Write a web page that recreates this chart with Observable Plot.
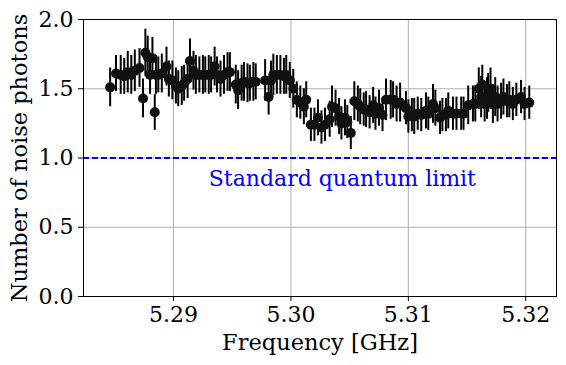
<!DOCTYPE html>
<html>
<head>
<meta charset="utf-8">
<script src="https://cdn.jsdelivr.net/npm/d3@7"></script>
<script src="https://cdn.jsdelivr.net/npm/@observablehq/plot@0.6"></script>
<style>
  html, body { margin: 0; padding: 0; background: #fff; }
  #chart svg { display: block; }
</style>
</head>
<body>
<div id="chart"></div>
<script>
const freq = [
  5.2846, 5.2851, 5.2855, 5.2858, 5.2861, 5.2864, 5.2867, 5.2871, 5.2874, 5.2876,
  5.2878, 5.2880, 5.2882, 5.2884, 5.2885, 5.2887, 5.2890, 5.2894, 5.2896, 5.2899,
  5.2902, 5.2904, 5.2907, 5.2909, 5.2912, 5.2914, 5.2917, 5.2919, 5.2922, 5.2925,
  5.2927, 5.2930, 5.2932, 5.2935, 5.2937, 5.2940, 5.2943, 5.2946, 5.2948, 5.2953,
  5.2955, 5.2958, 5.2960, 5.2963, 5.2965, 5.2968, 5.2970, 5.2978, 5.2981, 5.2983,
  5.2985, 5.2988, 5.2991, 5.2994, 5.2996, 5.2999, 5.3002, 5.3005, 5.3008, 5.3011,
  5.3013, 5.3017, 5.3020, 5.3023, 5.3026, 5.3029, 5.3033, 5.3035, 5.3038, 5.3041,
  5.3043, 5.3046, 5.3048, 5.3051, 5.3054, 5.3057, 5.3059, 5.3062, 5.3064, 5.3067,
  5.3070, 5.3072, 5.3075, 5.3078, 5.3081, 5.3085, 5.3087, 5.3090, 5.3093, 5.3098,
  5.3100, 5.3103, 5.3105, 5.3108, 5.3111, 5.3115, 5.3117, 5.3121, 5.3123, 5.3127,
  5.3129, 5.3132, 5.3134, 5.3138, 5.3141, 5.3145, 5.3147, 5.3151, 5.3155, 5.3157,
  5.3160, 5.3162, 5.3163, 5.3165, 5.3167, 5.3168, 5.3170, 5.3172, 5.3174, 5.3176,
  5.3179, 5.3181, 5.3184, 5.3186, 5.3189, 5.3192, 5.3196, 5.3199, 5.3203
];
const photons = [
  1.51, 1.61, 1.60, 1.59, 1.62, 1.60, 1.63, 1.65, 1.43, 1.76,
  1.73, 1.60, 1.72, 1.33, 1.60, 1.60, 1.61, 1.66, 1.57, 1.56,
  1.52, 1.50, 1.52, 1.54, 1.57, 1.70, 1.63, 1.60, 1.60, 1.60,
  1.60, 1.60, 1.60, 1.66, 1.60, 1.57, 1.60, 1.62, 1.62, 1.53,
  1.49, 1.54, 1.55, 1.54, 1.54, 1.55, 1.55, 1.56, 1.44, 1.56,
  1.60, 1.60, 1.60, 1.59, 1.60, 1.56, 1.50, 1.42, 1.40, 1.37,
  1.42, 1.24, 1.24, 1.29, 1.22, 1.24, 1.28, 1.37, 1.36, 1.30,
  1.25, 1.29, 1.26, 1.18, 1.41, 1.39, 1.37, 1.35, 1.35, 1.33,
  1.38, 1.32, 1.36, 1.31, 1.42, 1.42, 1.42, 1.39, 1.40, 1.36,
  1.30, 1.31, 1.30, 1.32, 1.31, 1.34, 1.32, 1.39, 1.36, 1.29,
  1.31, 1.31, 1.34, 1.32, 1.32, 1.32, 1.32, 1.38, 1.39, 1.39,
  1.50, 1.44, 1.53, 1.39, 1.43, 1.47, 1.50, 1.39, 1.44, 1.39,
  1.41, 1.44, 1.41, 1.42, 1.39, 1.42, 1.44, 1.39, 1.40
];
const errs = [
  0.14, 0.13, 0.14, 0.13, 0.15, 0.14, 0.15, 0.14, 0.14, 0.17,
  0.15, 0.14, 0.15, 0.13, 0.14, 0.13, 0.14, 0.14, 0.13, 0.14,
  0.13, 0.13, 0.14, 0.13, 0.14, 0.16, 0.14, 0.14, 0.13, 0.14,
  0.13, 0.14, 0.13, 0.14, 0.13, 0.13, 0.14, 0.14, 0.14, 0.14,
  0.14, 0.13, 0.14, 0.14, 0.13, 0.14, 0.13, 0.15, 0.13, 0.14,
  0.15, 0.14, 0.14, 0.13, 0.14, 0.13, 0.14, 0.13, 0.12, 0.13,
  0.13, 0.12, 0.12, 0.13, 0.12, 0.12, 0.13, 0.15, 0.13, 0.13,
  0.12, 0.13, 0.12, 0.12, 0.14, 0.13, 0.13, 0.12, 0.13, 0.12,
  0.13, 0.12, 0.13, 0.12, 0.15, 0.14, 0.13, 0.13, 0.14, 0.12,
  0.12, 0.12, 0.13, 0.12, 0.12, 0.13, 0.12, 0.14, 0.13, 0.12,
  0.12, 0.12, 0.13, 0.12, 0.12, 0.12, 0.12, 0.14, 0.13, 0.13,
  0.15, 0.15, 0.14, 0.13, 0.15, 0.14, 0.15, 0.14, 0.14, 0.13,
  0.13, 0.13, 0.12, 0.13, 0.12, 0.12, 0.12, 0.12, 0.12
];
const xTicks = [5.29, 5.30, 5.31, 5.32];
const yTicks = [0.0, 0.5, 1.0, 1.5, 2.0];
const sqlValue = 1.0;
const sqlLabel = "Standard quantum limit";
const sqlLabelPos = {x: 5.2930, y: 0.80};

const data = freq.map((f, i) => ({f, n: photons[i], e: errs[i]}));

const font = "DejaVu Serif";
const fs = 22;
const fsLabel = 22.5;

const chart = Plot.plot({
  width: 566,
  height: 365,
  marginLeft: 83,
  marginRight: 10,
  marginTop: 19,
  marginBottom: 69,
  style: {fontFamily: font, fontSize: fs + "px", color: "black", background: "white"},
  x: {domain: [5.28233, 5.32262]},
  y: {domain: [0, 2]},
  marks: [
    Plot.gridX(xTicks, {stroke: "#b0b0b0", strokeOpacity: 1, strokeWidth: 1}),
    Plot.gridY(yTicks, {stroke: "#b0b0b0", strokeOpacity: 1, strokeWidth: 1}),
    Plot.ruleY([sqlValue], {stroke: "blue", strokeWidth: 2, strokeDasharray: "6,3"}),
    Plot.ruleX(data, {x: "f", y1: d => d.n - d.e, y2: d => d.n + d.e, stroke: "black", strokeWidth: 2}),
    Plot.dot(data, {x: "f", y: "n", r: 5, fill: "#111", stroke: "none"}),
    Plot.text([sqlLabelPos], {x: "x", y: "y", text: () => sqlLabel, fill: "blue", textAnchor: "start", lineAnchor: "bottom", fontSize: fs, fontFamily: font}),
    Plot.axisX(xTicks, {tickFormat: d3.format(".2f"), tickSize: 5, tickPadding: 5, fontSize: fs}),
    Plot.axisY(yTicks, {tickFormat: d3.format(".1f"), tickSize: 5, tickPadding: 5, fontSize: fs}),
    Plot.text([{l: "Frequency [GHz]"}], {frameAnchor: "bottom", text: "l", dy: 46, fontSize: fsLabel, fontFamily: font, fill: "black", lineAnchor: "middle", textAnchor: "middle"}),
    Plot.text([{l: "Number of noise photons"}], {frameAnchor: "left", text: "l", dx: -64, rotate: -90, fontSize: fsLabel, fontFamily: font, fill: "black", lineAnchor: "middle", textAnchor: "middle"}),
    Plot.frame({stroke: "black", strokeWidth: 1})
  ]
});
document.getElementById("chart").appendChild(chart);
</script>
</body>
</html>
